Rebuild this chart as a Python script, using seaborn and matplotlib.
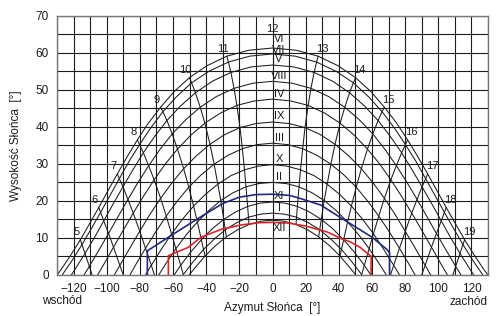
import matplotlib
matplotlib.use("Agg")
import matplotlib.pyplot as plt
import seaborn as sns

# Sun path diagram (15th day of each month), morning half only:
# points every half hour from noon backwards, azimuth measured from south [deg],
# last point of each list = sunrise. Afternoon is the mirror image.
VI_az = [0.0, 14.2, 27.5, 39.6, 50.1, 59.4, 67.5, 74.9, 81.5, 87.7, 93.6, 99.3, 104.8, 110.4, 115.9, 121.5, 127.3, 129.9]
VI_alt = [61.3, 60.7, 59.1, 56.5, 53.3, 49.5, 45.3, 41.0, 36.5, 31.9, 27.3, 22.7, 18.2, 13.8, 9.5, 5.5, 1.6, 0.0]
VII_az = [0.0, 13.7, 26.6, 38.4, 48.8, 58.0, 66.1, 73.5, 80.2, 86.5, 92.4, 98.1, 103.7, 109.3, 114.9, 120.6, 126.4, 126.8]
VII_alt = [59.7, 59.1, 57.5, 55.0, 51.9, 48.1, 44.1, 39.7, 35.2, 30.7, 26.0, 21.4, 16.9, 12.5, 8.2, 4.1, 0.3, 0.0]
V_az = [0.0, 12.8, 25.1, 36.4, 46.5, 55.6, 63.7, 71.1, 77.9, 84.2, 90.2, 96.1, 101.8, 107.4, 113.1, 118.9, 121.3]
V_alt = [56.7, 56.2, 54.7, 52.3, 49.2, 45.6, 41.7, 37.4, 33.0, 28.4, 23.8, 19.2, 14.6, 10.1, 5.8, 1.7, 0.0]
VIII_az = [0.0, 11.8, 23.2, 33.8, 43.6, 52.4, 60.5, 67.9, 74.7, 81.1, 87.2, 93.1, 98.9, 104.7, 110.5, 113.7]
VIII_alt = [52.3, 51.8, 50.4, 48.2, 45.3, 41.9, 38.1, 33.9, 29.5, 25.0, 20.4, 15.8, 11.2, 6.7, 2.3, 0.0]
IV_az = [0.0, 10.9, 21.5, 31.5, 40.8, 49.4, 57.3, 64.6, 71.4, 77.9, 84.0, 90.0, 95.9, 101.7, 105.5]
IV_alt = [47.5, 47.0, 45.8, 43.7, 41.0, 37.7, 34.0, 30.0, 25.7, 21.2, 16.7, 12.1, 7.5, 2.9, 0.0]
IX_az = [0.0, 9.9, 19.6, 28.9, 37.7, 45.9, 53.6, 60.8, 67.5, 74.0, 80.1, 86.1, 92.1, 95.4]
IX_alt = [41.3, 40.9, 39.8, 37.9, 35.3, 32.2, 28.7, 24.8, 20.7, 16.3, 11.8, 7.2, 2.6, 0.0]
III_az = [0.0, 9.2, 18.2, 26.9, 35.2, 43.1, 50.5, 57.5, 64.1, 70.5, 76.6, 82.6, 86.0]
III_alt = [35.6, 35.2, 34.1, 32.3, 29.9, 27.0, 23.7, 19.9, 15.9, 11.6, 7.2, 2.7, 0.0]
X_az = [0.0, 8.5, 16.9, 25.1, 33.0, 40.4, 47.6, 54.4, 60.9, 67.1, 73.1, 76.6]
X_alt = [29.8, 29.4, 28.4, 26.8, 24.5, 21.8, 18.6, 15.0, 11.1, 6.9, 2.6, 0.0]
II_az = [0.0, 8.1, 16.0, 23.8, 31.2, 38.4, 45.3, 51.9, 58.3, 64.4, 68.6]
II_alt = [25.0, 24.7, 23.8, 22.2, 20.1, 17.4, 14.3, 10.9, 7.1, 3.0, 0.0]
XI_az = [0.0, 7.5, 15.0, 22.3, 29.4, 36.3, 42.9, 49.3, 55.4, 59.3]
XI_alt = [19.7, 19.4, 18.5, 17.0, 15.0, 12.5, 9.5, 6.2, 2.6, 0.0]
I_az = [0.0, 7.3, 14.5, 21.6, 28.5, 35.1, 41.6, 47.8, 53.8, 53.9]
I_alt = [16.7, 16.4, 15.6, 14.1, 12.2, 9.7, 6.9, 3.6, 0.1, 0.0]
XII_az = [0.0, 7.1, 14.2, 21.1, 27.8, 34.4, 40.7, 46.8, 50.2]
XII_alt = [14.8, 14.5, 13.6, 12.2, 10.3, 7.9, 5.1, 1.9, 0.0]

# hours with a drawn hour line, and where the early/late hour lines meet the horizon
hour_labels = [5, 6, 7, 8, 9, 10, 11, 12, 13, 14, 15, 16, 17, 18, 19]
horizon_hours = [5, 6, 7, 8]
horizon_az = [108.8, 90.0, 71.2, 53.8]

# the two extra outlines (blue / red)
blue_az = [-75.5, -75.5, -61, -44, -30, -20, -10, 0, 10, 15, 29, 41, 60, 69, 70.6, 70.6]
blue_alt = [0, 6.5, 10.7, 15.5, 19.3, 21.0, 21.7, 21.8, 21.5, 20.9, 18.9, 15.5, 10.2, 6.9, 6.0, 0]
red_az = [-62.8, -62.8, -57, -51, -43, -31, -19, -8, 0, 10, 20, 33, 41, 47, 53, 59.5, 59.5]
red_alt = [0, 5.2, 6.3, 7.4, 10.2, 12.3, 13.5, 14.1, 14.2, 14.0, 13.2, 11.6, 9.9, 8.9, 7.4, 5.0, 0]

# months sorted by declination (summer -> winter)
Months = [("VI", VI_az, VI_alt), ("VII", VII_az, VII_alt), ("V", V_az, V_alt),
          ("VIII", VIII_az, VIII_alt), ("IV", IV_az, IV_alt), ("IX", IX_az, IX_alt),
          ("III", III_az, III_alt), ("X", X_az, X_alt), ("II", II_az, II_alt),
          ("XI", XI_az, XI_alt), ("I", I_az, I_alt), ("XII", XII_az, XII_alt)]

# vertical shift of the month labels relative to the noon point [deg]
LabelShift = {"VI": 2.3, "VII": 1.0, "XII": -2.2}

sns.set_theme(style="white")
plt.rcParams['font.family'] = ['Liberation Sans Narrow', 'Liberation Sans', 'DejaVu Sans']
plt.rcParams['axes.unicode_minus'] = True

fig = plt.figure(figsize=(5.0, 3.16), dpi=100)
ax = fig.add_axes([0.114, 0.130, 0.862, 0.820])

ink = "#1c1c1c"

# full day path = mirrored morning + afternoon
for name, az, alt in Months:
    x = [-a for a in az[::-1]] + az[1:]
    y = alt[::-1] + alt[1:]
    sns.lineplot(x=x, y=y, ax=ax, sort=False, estimator=None, color=ink, lw=0.75)

# hour lines: same hour on every month curve
for h in hour_labels:
    k = 2 * abs(12 - h)
    sign = -1 if h < 12 else 1
    x, y = [], []
    for name, az, alt in Months:
        if k < len(az) - 1:
            x.append(sign * az[k])
            y.append(alt[k])
    hh = h if h < 12 else 24 - h
    if hh in horizon_hours:
        x.append(sign * horizon_az[horizon_hours.index(hh)])
        y.append(0.0)
    sns.lineplot(x=x, y=y, ax=ax, sort=False, estimator=None, color=ink, lw=0.75)
    # label at the June end of the line
    if h == 12:
        ax.annotate(str(h), (x[0], y[0]), xytext=(0, 14), textcoords='offset points',
                    ha='center', va='center', fontsize=8, color=ink)
    else:
        ax.annotate(str(h), (x[0], y[0]), xytext=(sign * 3, 5.5), textcoords='offset points',
                    ha='center', va='center', fontsize=8, color=ink)

for name, az, alt in Months:
    ax.text(4, alt[0] + LabelShift.get(name, 1.5), name, ha='center', va='center',
            fontsize=8, color=ink)

sns.lineplot(x=blue_az, y=blue_alt, ax=ax, sort=False, estimator=None, color="#1f2a80", lw=1.2)
sns.lineplot(x=red_az, y=red_alt, ax=ax, sort=False, estimator=None, color="#d8262a", lw=1.2)

ax.set_xlim(-130, 130)
ax.set_ylim(0, 70)
ax.set_xticks(range(-120, 121, 20))
ax.set_yticks(range(0, 71, 10))
ax.set_xticks(range(-130, 131, 10), minor=True)
ax.set_yticks(range(0, 71, 5), minor=True)
ax.grid(which='both', color=ink, lw=0.8)
ax.set_axisbelow(True)
ax.tick_params(which='both', length=0, labelsize=8.5, colors=ink)
ax.tick_params(axis='x', pad=6)
ax.tick_params(axis='y', pad=6)
for s in ax.spines.values():
    s.set_color("#777777")
    s.set_linewidth(1.0)

ax.set_xlabel("Azymut Słońca  [°]", fontsize=8.5, color=ink, labelpad=5)
ax.set_ylabel("Wysokość Słońca  [°]", fontsize=8.5, color=ink, labelpad=10)
fig.text(0.124, 0.047, "wschód", ha='center', va='center', fontsize=8.5, color=ink)
fig.text(0.976, 0.044, "zachód", ha='right', va='center', fontsize=8.5, color=ink)

fig.savefig("out.png", dpi=100)
